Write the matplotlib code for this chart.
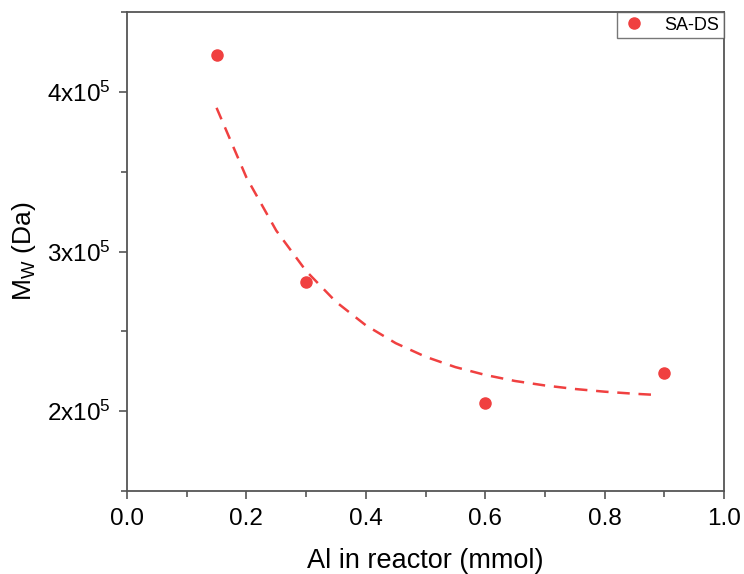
import numpy as np
import matplotlib
matplotlib.use("Agg")
import matplotlib.pyplot as plt
from matplotlib.ticker import MultipleLocator, FuncFormatter

plt.rcParams['font.family'] = ['Liberation Sans', 'DejaVu Sans']

# measured points
al_mmol = [0.15, 0.30, 0.60, 0.90]
mw_da = [4.23e5, 2.81e5, 2.05e5, 2.24e5]

# dashed fit curve
fit_x = [0.15, 0.20, 0.25, 0.30, 0.35, 0.40, 0.45, 0.50, 0.55, 0.60,
         0.65, 0.70, 0.75, 0.80, 0.85, 0.88]
fit_y = [3.900e5, 3.464e5, 3.131e5, 2.878e5, 2.685e5, 2.538e5, 2.426e5, 2.341e5,
         2.276e5, 2.227e5, 2.189e5, 2.161e5, 2.139e5, 2.122e5, 2.109e5, 2.103e5]

red = '#f04040'
spine_col = '#555555'

fig = plt.figure(figsize=(7.44, 5.74), dpi=100)
ax = fig.add_axes([127/744, 1 - 491/574, 597/744, 479/574])

ax.plot(fit_x, fit_y, color=red, lw=1.8, dashes=(5, 3.5))
ax.plot(al_mmol, mw_da, 'o', color=red, ms=8, label='SA-DS')

ax.set_xlim(0, 1.0)
ax.set_ylim(1.5e5, 4.5e5)
ax.xaxis.set_major_locator(MultipleLocator(0.2))
ax.xaxis.set_minor_locator(MultipleLocator(0.1))
ax.yaxis.set_major_locator(MultipleLocator(1e5))
ax.yaxis.set_minor_locator(MultipleLocator(0.5e5))
ax.xaxis.set_major_formatter(FuncFormatter(lambda v, p: f'{v:.1f}'))
ax.yaxis.set_major_formatter(FuncFormatter(
    lambda v, p: r'$\mathregular{%dx10^5}$' % round(v / 1e5)))

for s in ax.spines.values():
    s.set_color(spine_col)
    s.set_linewidth(1.3)
ax.tick_params(which='major', length=6, width=1.2, color=spine_col,
               labelsize=17.5, pad=6, direction='out')
ax.tick_params(which='minor', length=4, width=1.2, color=spine_col, direction='out')

ax.set_xlabel('Al in reactor (mmol)', fontsize=19.5, labelpad=13)
ax.set_ylabel(r'$\mathregular{M_W}$ (Da)', fontsize=19, labelpad=6)

leg = ax.legend(loc='upper right', borderaxespad=0, fancybox=False,
                fontsize=13, handletextpad=1.0, borderpad=0.25, handlelength=1.4)
leg.get_frame().set_edgecolor(spine_col)
leg.get_frame().set_linewidth(1.0)

fig.savefig('out.png', dpi=100)
